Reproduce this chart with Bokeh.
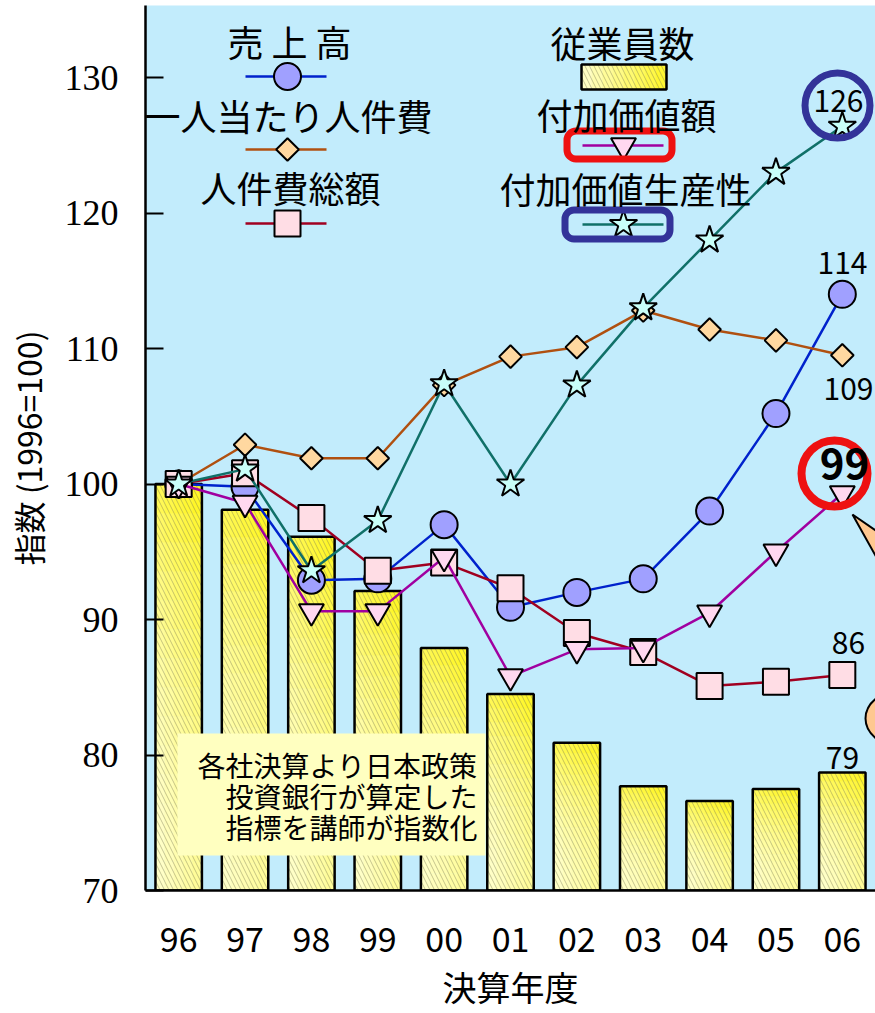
from bokeh.plotting import figure
from bokeh.models import Range1d, FixedTicker, Label, BoxAnnotation
from bokeh.embed import file_html
from bokeh.resources import INLINE

# ---------------- data ----------------
years = ["96", "97", "98", "99", "00", "01", "02", "03", "04", "05", "06"]
employees = [100, 98.1, 96.1, 92.1, 87.9, 84.5, 80.9, 77.7, 76.6, 77.5, 78.7]      # 従業員数
sales = [100, 99.8, 92.9, 93.0, 97.0, 90.9, 92.0, 93.0, 98.0, 105.2, 114.0]         # 売上高
cost_per_head = [100, 102.9, 101.9, 101.9, 107.3, 109.4, 110.1, 112.8, 111.4, 110.6, 109.5]  # 一人当たり人件費
total_labor = [100, 100.8, 97.5, 93.6, 94.2, 92.3, 89.0, 87.6, 85.1, 85.4, 85.9]    # 人件費総額
value_added = [100, 98.6, 90.6, 90.6, 94.6, 85.8, 87.8, 87.9, 90.5, 95.0, 99.3]     # 付加価値額
productivity = [100, 101.1, 93.6, 97.3, 107.4, 100.0, 107.3, 113.0, 118.0, 123.0, 126.4]  # 付加価値生産性
y_ticks = [70, 80, 90, 100, 110, 120, 130]

# ---------------- geometry helpers (page px -> data) ----------------
FL, FR, FT, FB = 145.0, 875.0, 5.0, 890.0
X0, X1 = -0.5, 10.5
Y0 = 70.0
Y1 = Y0 + (FB - FT) / 13.55


def dx(X):
    return X0 + (X - FL) * (X1 - X0) / (FR - FL)


def dy(Y):
    return Y0 + (FB - Y) * (Y1 - Y0) / (FB - FT)


JP = "Noto Sans CJK JP"
BG = "#c2ecfc"

p = figure(width=875, height=1013, x_range=Range1d(X0, X1), y_range=Range1d(Y0, Y1),
           output_backend="svg", toolbar_location=None,
           min_border_left=145, min_border_right=0, min_border_top=5, min_border_bottom=123,
           background_fill_color=BG, border_fill_color="white", outline_line_color=None)
p.grid.visible = False

# ---------------- axes ----------------
ya = p.yaxis[0]
ya.ticker = FixedTicker(ticks=y_ticks)
ya.major_label_text_font = "Liberation Serif"
ya.major_label_text_font_size = "36px"
ya.major_label_text_color = "black"
ya.major_tick_in = 18
ya.major_tick_out = 0
ya.minor_tick_in = 0
ya.minor_tick_out = 0
ya.axis_line_width = 2.5
ya.major_tick_line_width = 2
ya.major_label_standoff = 27
ya.axis_label = "指数 (1996=100)"
ya.axis_label_text_font = JP
ya.axis_label_text_font_size = "32px"
ya.axis_label_text_font_style = "normal"
ya.axis_label_text_color = "black"
ya.axis_label_standoff = 11

xa = p.xaxis[0]
xa.ticker = FixedTicker(ticks=list(range(len(years))))
xa.major_label_overrides = {i: y for i, y in enumerate(years)}
xa.major_label_text_font = JP
xa.major_label_text_font_size = "34px"
xa.major_label_text_color = "black"
xa.major_tick_in = 0
xa.major_tick_out = 0
xa.minor_tick_in = 0
xa.minor_tick_out = 0
xa.axis_line_width = 2.5
xa.major_label_standoff = 36
xa.axis_label = "決算年度"
xa.axis_label_text_font = JP
xa.axis_label_text_font_size = "34px"
xa.axis_label_text_font_style = "normal"
xa.axis_label_text_color = "black"
xa.axis_label_standoff = 7

# ---------------- bars (gradient fill + hatch) ----------------
BW = 0.7
NC, NR = 5, 14
pale = (255, 255, 205)
bright = (255, 246, 40)


def mix(t):
    c = [int(round(pale[j] + (bright[j] - pale[j]) * t)) for j in range(3)]
    return "#%02x%02x%02x" % tuple(c)


L, R, B, T, C = [], [], [], [], []
for i, v in enumerate(employees):
    for a in range(NC):
        for b in range(NR):
            L.append(i - BW / 2 + BW * a / NC)
            R.append(i - BW / 2 + BW * (a + 1) / NC)
            B.append(Y0 + (v - Y0) * b / NR)
            T.append(Y0 + (v - Y0) * (b + 1) / NR)
            u = (a + 0.5) / NC
            w = (b + 0.5) / NR
            C.append(mix(min(1.0, 0.35 * u + 0.75 * w * w)))
p.quad(left=L, right=R, bottom=B, top=T, fill_color=C, line_color=C, line_width=0.6)
p.vbar(x=list(range(len(years))), width=BW, top=employees, bottom=Y0,
       fill_alpha=0, line_color="black", line_width=2.5,
       hatch_pattern="\\", hatch_color="#7a7a50", hatch_alpha=0.55, hatch_scale=9, hatch_weight=0.8)

# ---------------- line series ----------------
xs = list(range(len(years)))


def series(vals, lc, marker, fc, size, angle=0.0):
    p.line(xs, vals, line_color=lc, line_width=2.5)
    p.scatter(xs, vals, marker=marker, size=size, angle=angle, fill_color=fc,
              line_color="black", line_width=2)


series(sales, "#0022cc", "circle", "#a0a0ff", 27)
series(cost_per_head, "#b05010", "square", "#ffd8a0", 16, angle=0.785398)
series(total_labor, "#a00020", "square", "#ffdde5", 26)
series(value_added, "#a000a0", "inverted_triangle", "#ffd8f0", 25)
series(productivity, "#107068", "star", "#c8fff8", 29)


# ---------------- legend (custom) ----------------
def leg_line(x1, x2, Y, col):
    p.line([dx(x1), dx(x2)], [dy(Y), dy(Y)], line_color=col, line_width=2.5)


leg_line(245, 326, 76, "#0022cc")
p.scatter([dx(287)], [dy(76)], marker="circle", size=27, fill_color="#a0a0ff", line_color="black", line_width=2)
leg_line(245, 326, 149, "#b05010")
p.scatter([dx(287)], [dy(149)], marker="square", angle=0.785398, size=16, fill_color="#ffd8a0",
          line_color="black", line_width=2)
leg_line(245, 326, 223, "#a00020")
p.scatter([dx(287)], [dy(223)], marker="square", size=26, fill_color="#ffdde5", line_color="black", line_width=2)

# bar swatch
NS = 8
sw_l, sw_r, sw_c = [], [], []
for k in range(NS):
    sw_l.append(dx(581 + 85 * k / NS))
    sw_r.append(dx(581 + 85 * (k + 1) / NS))
    sw_c.append(mix((k + 0.5) / NS))
p.quad(left=sw_l, right=sw_r, bottom=dy(89), top=dy(64), fill_color=sw_c, line_color=sw_c, line_width=0.6)
p.quad(left=[dx(581)], right=[dx(666)], bottom=[dy(89)], top=[dy(64)], fill_alpha=0,
       line_color="black", line_width=2.5, hatch_pattern="\\", hatch_color="#7a7a50",
       hatch_alpha=0.55, hatch_scale=9, hatch_weight=0.8)

leg_line(582, 663, 145, "#a000a0")
p.scatter([dx(623)], [dy(145)], marker="inverted_triangle", size=25, fill_color="#ffd8f0",
          line_color="black", line_width=2)
leg_line(582, 663, 224, "#107068")
p.scatter([dx(623)], [dy(224)], marker="star", size=29, fill_color="#c8fff8", line_color="black", line_width=2)

p.add_layout(BoxAnnotation(left=dx(566.5), right=dx(671.5), top=dy(130.5), bottom=dy(158.5),
                           fill_alpha=0, line_color="#ee1111", line_alpha=1, line_width=7, border_radius=9))
p.add_layout(BoxAnnotation(left=dx(564.5), right=dx(669.5), top=dy(209.5), bottom=dy(238.5),
                           fill_alpha=0, line_color="#333399", line_alpha=1, line_width=7, border_radius=9))


def lab(X, Y, text, size="36px", align="center", bold=False, font=JP):
    p.add_layout(Label(x=dx(X), y=dy(Y), text=text, text_align=align, text_baseline="middle",
                       text_font=font, text_font_size=size, text_color="black",
                       text_font_style="bold" if bold else "normal"))


lab(289, 40, "売 上 高")
lab(288, 114, "一人当たり人件費")
lab(290, 186, "人件費総額")
lab(622, 41, "従業員数")
lab(626, 113, "付加価値額")
lab(625, 187, "付加価値生産性")

# ---------------- highlight rings & callouts ----------------
p.scatter([dx(837)], [dy(105)], marker="circle", size=65, fill_alpha=0,
          line_color="#333399", line_width=7)
p.scatter([dx(834)], [dy(473)], marker="circle", size=66, fill_alpha=0,
          line_color="#ee1111", line_width=8)
p.patch([dx(852), dx(900), dx(900)], [dy(514), dy(547), dy(600)],
        fill_color="#ffc890", line_color="black", line_width=2)
p.ellipse(x=[dx(910)], y=[dy(718)], width=90, height=62, width_units="screen", height_units="screen",
          fill_color="#ffc890", line_color="black", line_width=2)

# value labels
lab(838, 100, "126", size="30px")
lab(842, 262, "114", size="30px")
lab(873, 388, "109", size="30px", align="right")
lab(844, 463, "99", size="42px", bold=True)
lab(848, 642, "86", size="30px")
lab(842, 757, "79", size="30px")

# ---------------- note box ----------------
p.add_layout(BoxAnnotation(left=dx(177), right=dx(485), top=dy(733), bottom=dy(855),
                           fill_color="#ffffc0", fill_alpha=1, line_color=None))
lab(477, 764, "各社決算より日本政策", size="28px", align="right")
lab(477, 795, "投資銀行が算定した", size="28px", align="right")
lab(477, 826, "指標を講師が指数化", size="28px", align="right")

open("out.html", "w").write(file_html(p, INLINE))
